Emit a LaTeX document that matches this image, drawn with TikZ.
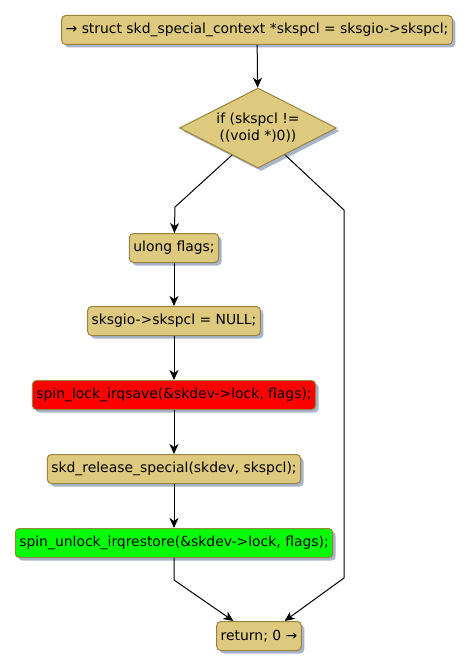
\documentclass[tikz,border=0pt]{standalone}
\usepackage{fontspec}
\setmainfont{DejaVu Sans}
\usepackage{xcolor}
\usetikzlibrary{arrows.meta,shapes.geometric,shadows,calc}

\definecolor{actfill}{RGB}{221,202,126}
\definecolor{actline}{RGB}{152,132,62}
\definecolor{actshadow}{RGB}{168,180,204}
\definecolor{lockred}{RGB}{255,0,0}
\definecolor{lockgreen}{RGB}{0,255,0}

\tikzset{
  act/.style={draw=actline,fill=actfill,rounded corners=4pt,inner xsep=4pt,
    minimum height=29pt,font=\fontsize{13.9}{17}\selectfont,line width=1pt,
    drop shadow={shadow xshift=3pt,shadow yshift=-3pt,fill=actshadow,opacity=1}},
  cond/.style={diamond,draw=actline,fill=actfill,inner xsep=-10pt,inner ysep=-5pt,
    line width=1pt,shape aspect=1.96,
    minimum width=157pt,minimum height=80pt,align=center,
    font=\fontsize{13.9}{17}\selectfont,
    drop shadow={shadow xshift=3pt,shadow yshift=-3pt,fill=actshadow,opacity=1}},
  flow/.style={-{Stealth[length=10pt,width=9pt,inset=3pt]},black,line width=1pt}
}

\begin{document}
\begin{tikzpicture}[x=1pt,y=-1pt]
  \useasboundingbox (0,0) rectangle (474,671);
  \node[act] (decl) at (257,30) {→ struct skd\_special\_context *skspcl = sksgio->skspcl;};
  \node[cond] (test) at (258,128) {if (skspcl !=\\((void *)0))};
  \node[act] (flags) at (174,248) {ulong flags;};
  \node[act] (clear) at (174,321) {sksgio->skspcl = NULL;};
  \node[act,fill=lockred] (lock) at (174,395) {spin\_lock\_irqsave(\&skdev->lock, flags);};
  \node[act] (release) at (174,469) {skd\_release\_special(skdev, skspcl);};
  \node[act,fill=lockgreen] (unlock) at (174,543) {spin\_unlock\_irqrestore(\&skdev->lock, flags);};
  \node[act] (ret) at (259,636) {return; 0 →};

  % branch corners
  \coordinate (yesout) at ($(test.west)!0.67!(test.south)$);
  \coordinate (noout) at ($(test.south)!0.34!(test.east)$);
  \coordinate (yesbend) at (175,207);
  \coordinate (nobend) at (344,210);
  \coordinate (nolow) at (344,578);
  \coordinate (joinbend) at (174,580);

  \draw[flow] (decl) -- (test);
  \draw[flow] (yesout) -- (yesbend) -- (flags);
  \draw[flow] (flags) -- (clear);
  \draw[flow] (clear) -- (lock);
  \draw[flow] (lock) -- (release);
  \draw[flow] (release) -- (unlock);
  \draw[flow] (unlock) -- (joinbend) -- ($(ret.north west)!0.2!(ret.north east)$);
  \draw[flow] (noout) -- (nobend) -- (nolow) -- ($(ret.north west)!0.8!(ret.north east)$);
\end{tikzpicture}
\end{document}
